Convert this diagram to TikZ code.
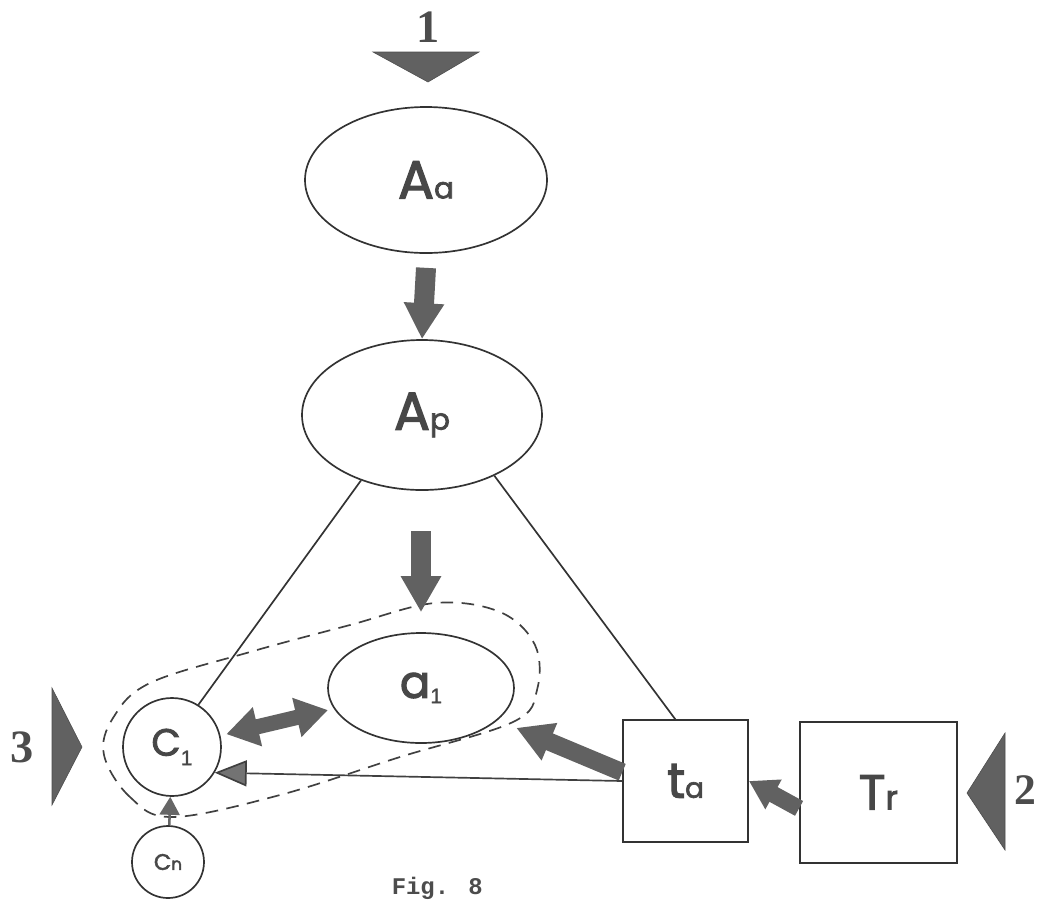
\documentclass[tikz,border=0pt]{standalone}
\usepackage{fontspec}
\usetikzlibrary{arrows.meta,shapes.geometric}
\newfontfamily\labelfont[FakeBold=2.4]{Poppins}
\newfontfamily\subfont[FakeBold=1.2]{Liberation Sans}
\newfontfamily\numfont{Liberation Serif}
\newfontfamily\figfont{Liberation Mono}
\newcommand{\fsz}[1]{\fontsize{#1}{#1}\selectfont}
\begin{document}
\begin{tikzpicture}[
    ink/.style={draw=black!80, line width=1.2pt},
    level/.style={ellipse, ink, inner sep=0pt, text=black!72, font=\labelfont\fsz{38}},
    agent/.style={circle, ink, inner sep=0pt, text=black!72, font=\labelfont\fsz{27}},
    store/.style={rectangle, ink, inner sep=0pt, text=black!72, font=\labelfont\fsz{35}},
    fatarrow/.style={line width=0.5cm, draw=black!62, -{Triangle[width=0.95cm,length=0.9cm,fill=black!62]}},
    bothways/.style={line width=0.38cm, draw=black!62, {Triangle[width=0.95cm,length=0.8cm,fill=black!62]}-{Triangle[width=0.95cm,length=0.8cm,fill=black!62]}},
    thinarrow/.style={line width=1.2pt, draw=black!75, -{Triangle[width=0.65cm,length=0.8cm,fill=black!55]}},
    smallarrow/.style={line width=1.8pt, draw=black!60, -{Triangle[width=0.5cm,length=0.45cm,fill=black!60]}},
    wedge/.style={fill=black!62, draw=black!70},
    entry/.style={font=\numfont\bfseries\fsz{33}, text=black!70},
    loop/.style={dashed, dash pattern=on 9pt off 6pt, draw=black!75, line width=1.2pt},
]
\useasboundingbox (0,0) rectangle (25.95,-22.475);
\node[level, minimum width=6.05cm, minimum height=3.65cm] (Aa) at (10.65,-4.5) {A{\fsz{21}a}};
\node[level, minimum width=6.0cm, minimum height=3.75cm] (Ap) at (10.55,-10.375) {A{\fsz{21}p}};
\node[level, minimum width=4.65cm, minimum height=2.75cm, font=\labelfont\fsz{32}] (a1) at (10.525,-17.2) {a\raisebox{-0.12em}{\subfont\fsz{15}1}};
\node[agent, minimum size=2.45cm] (C1) at (4.3,-18.675) {C\raisebox{-0.25em}{\subfont\fsz{15}1}};
\node[agent, minimum size=1.8cm, font=\labelfont\fsz{16}] (Cn) at (4.2,-21.55) {C{\fsz{12}n}};
\node[store, minimum width=3.125cm, minimum height=3.05cm] (ta) at (17.14,-19.525) {t{\fsz{20}a}};
\node[store, minimum width=3.925cm, minimum height=3.525cm] (Tr) at (21.96,-19.81) {T{\fsz{24}r}};
\node[entry] (in1) at (10.7,-0.68) {1};
\node[entry] (in3) at (0.55,-18.68) {3};
\node[entry, font=\numfont\bfseries\fsz{31}] (in2) at (25.63,-19.75) {2};
\node[font=\figfont\bfseries\fsz{17}, text=black!70] (fig) at (10.93,-22.2) {Fig. 8};
\fill[wedge] (9.325,-1.3) -- (11.975,-1.3) -- (10.7,-2.05) -- cycle;
\fill[wedge] (1.3,-17.2) -- (1.3,-20.125) -- (2.05,-18.675) -- cycle;
\fill[wedge] (25.125,-18.325) -- (25.125,-21.25) -- (24.175,-19.825) -- cycle;
\draw[ink] (Ap.227) -- (C1.58);
\draw[ink] (Ap.-40) -- ([xshift=-0.26cm]ta.north);
\draw[loop] plot[smooth cycle, tension=0.6] coordinates {(4.325,-20.425) (3.25,-19.925) (2.6,-18.875) (2.825,-17.95) (3.75,-17.075) (6.25,-16.3) (8.75,-15.625) (10.875,-15.075) (12.5,-15.3) (13.375,-16.125) (13.425,-17.25) (12.825,-18.05) (10,-18.925) (7,-19.875)};
\draw[fatarrow] ([yshift=-0.35cm]Aa.south) -- (Ap.north);
\draw[fatarrow] ([yshift=2.52cm]a1.north) -- ([yshift=0.5cm]a1.north);
\draw[bothways, shorten <=0.15cm, shorten >=0.15cm] (C1) -- (a1);
\draw[fatarrow, line width=0.45cm, shorten >=0.5cm] ([yshift=0.22cm]ta.west) -- (a1);
\draw[thinarrow] (ta.west) -- (C1.-31);
\draw[fatarrow, line width=0.42cm, -{Triangle[width=0.8cm,length=0.7cm,fill=black!62]}] ([yshift=-0.4cm]Tr.west) -- (ta.east);
\draw[smallarrow] (Cn) -- (C1);
\end{tikzpicture}
\end{document}
